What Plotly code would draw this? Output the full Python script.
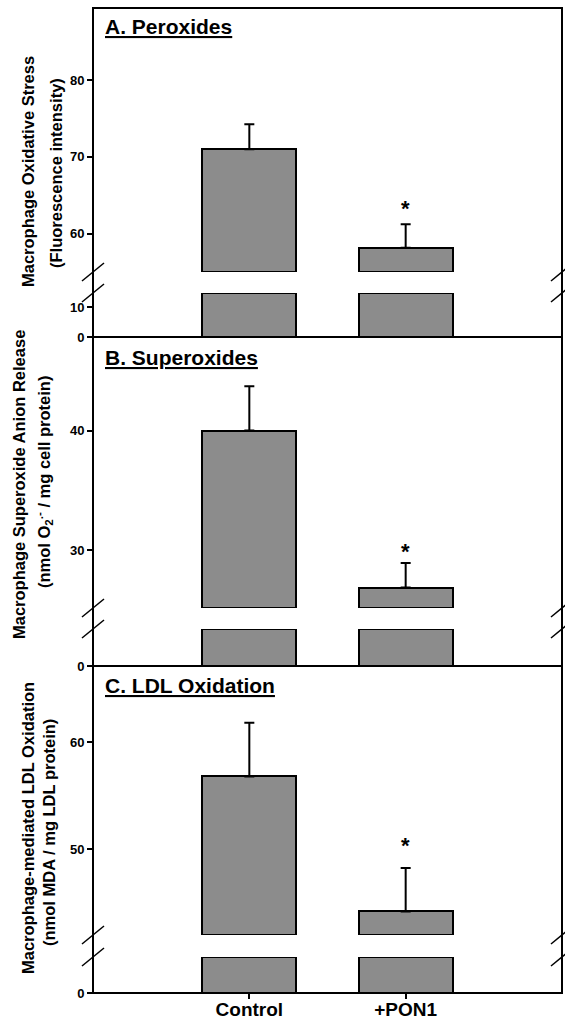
import plotly.graph_objects as go

# ---------------- data ----------------
categories = ["Control", "+PON1"]

peroxide_mean = [71.0, 58.2]
peroxide_sem = [3.25, 3.05]

superoxide_mean = [40.0, 26.9]
superoxide_sem = [3.7, 2.05]

ldl_mean = [56.8, 44.2]
ldl_sem = [5.0, 4.05]

star_y = [63.9, 30.3, 50.8]   # position of the significance asterisk (+PON1)

panel_titles = ["A. Peroxides", "B. Superoxides", "C. LDL Oxidation"]
ylabel_line1 = ["Macrophage Oxidative Stress",
                "Macrophage Superoxide Anion Release",
                "Macrophage-mediated LDL Oxidation"]
ylabel_line2 = ["(Fluorescence intensity)",
                "(nmol O<sub>2</sub><sup>.-</sup> / mg cell protein)",
                "(nmol MDA / mg LDL protein)"]

upper_ticks = [[60, 70, 80], [30, 40], [50, 60]]
lower_ticks = [[0, 10], [0, 5], [0, 10]]

# ---------------- layout geometry ----------------
W, H = 565, 1022
ML, MR, MT, MB = 93, 3, 8, 29
PW, PH = W - ML - MR, H - MT - MB


def fx(px):
    return (px - ML) / PW


def fy(py):
    return (H - MB - py) / PH


FONT = "Liberation Sans, Arial, sans-serif"

panels = [
    dict(mean=peroxide_mean, sem=peroxide_sem,
         upper_px=(8, 272), lower_px=(293, 337),
         upper_range=[55.05, 89.35], lower_range=[0, 14.7],
         lab_px=[(28, 172), (56, 173)], title_py=27),
    dict(mean=superoxide_mean, sem=superoxide_sem,
         upper_px=(337, 608), lower_px=(629, 666),
         upper_range=[25.2, 47.8], lower_range=[0, 4.9],
         lab_px=[(19, 485), (44, 482)], title_py=357),
    dict(mean=ldl_mean, sem=ldl_sem,
         upper_px=(666, 935), lower_px=(957, 993),
         upper_range=[42.0, 67.1], lower_range=[0, 9.5],
         lab_px=[(28, 828), (49, 833)], title_py=686),
]

fig = go.Figure()
shapes = []
annotations = []
layout_axes = {}

BAR_FILL = "#8c8c8c"

for i, p in enumerate(panels):
    up_id = 2 * i + 1
    lo_id = 2 * i + 2
    up_ref = "y" if up_id == 1 else f"y{up_id}"
    lo_ref = f"y{lo_id}"
    up_key = "yaxis" if up_id == 1 else f"yaxis{up_id}"
    lo_key = f"yaxis{lo_id}"

    ub = p["upper_range"][0]
    lt = p["lower_range"][1]

    # upper segment of the broken bars
    fig.add_trace(go.Bar(
        x=categories, y=[v - ub for v in p["mean"]], base=[ub] * len(p["mean"]),
        width=0.6, xaxis="x", yaxis=up_ref,
        marker=dict(color=BAR_FILL, line=dict(color="black", width=2)),
        error_y=dict(type="data", array=p["sem"], arrayminus=[0] * len(p["sem"]),
                     symmetric=False, color="black", thickness=2, width=5),
        showlegend=False, hoverinfo="skip"))
    # lower segment of the broken bars
    fig.add_trace(go.Bar(
        x=categories, y=[min(v, lt) for v in p["mean"]],
        width=0.6, xaxis="x", yaxis=lo_ref,
        marker=dict(color=BAR_FILL, line=dict(color="black", width=2)),
        showlegend=False, hoverinfo="skip"))

    ud = [fy(p["upper_px"][1]), fy(p["upper_px"][0])]
    ld = [max(0, fy(p["lower_px"][1])), fy(p["lower_px"][0])]
    common = dict(anchor="x", showgrid=False, zeroline=False, showline=False,
                  ticks="outside", ticklen=5, tickwidth=1.5, tickcolor="black",
                  tickfont=dict(family=FONT, size=13, color="black", weight="bold"),
                  fixedrange=True)
    layout_axes[up_key] = dict(domain=ud, range=p["upper_range"],
                               tickvals=upper_ticks[i], **common)
    layout_axes[lo_key] = dict(domain=ld, range=p["lower_range"],
                               tickvals=lower_ticks[i], **common)

    # panel frame
    shapes.append(dict(type="rect", xref="paper", yref="paper",
                       x0=0, x1=1, y0=ld[0], y1=ud[1],
                       line=dict(color="black", width=2), layer="above"))
    # break marks on left and right axes
    for yc in (ud[0], ld[1]):
        for xc in (0, 1):
            shapes.append(dict(type="line", xref="paper", yref="paper",
                               x0=xc - 11 / PW, x1=xc + 11 / PW,
                               y0=yc - 9 / PH, y1=yc + 9 / PH,
                               line=dict(color="black", width=1.5)))

    # y-axis title (two lines)
    for txt, (px, py) in zip([ylabel_line1[i], ylabel_line2[i]], p["lab_px"]):
        annotations.append(dict(text=f"<b>{txt}</b>", xref="paper", yref="paper",
                                x=fx(px), y=fy(py), textangle=-90, showarrow=False,
                                xanchor="center", yanchor="middle",
                                font=dict(family=FONT, size=16.5, color="black")))
    # panel title
    annotations.append(dict(text=f"<b><u>{panel_titles[i]}</u></b>",
                            xref="paper", yref="paper", x=fx(103), y=fy(p["title_py"]),
                            xanchor="left", yanchor="middle", showarrow=False,
                            font=dict(family=FONT, size=21, color="black")))
    # significance asterisk
    annotations.append(dict(text="<b>*</b>", xref="x", yref=up_ref,
                            x=categories[1], y=star_y[i], showarrow=False,
                            yanchor="middle", yshift=-5,
                            font=dict(family=FONT, size=22, color="black")))

fig.update_layout(
    width=W, height=H,
    margin=dict(l=ML, r=MR, t=MT, b=MB, autoexpand=False),
    paper_bgcolor="white", plot_bgcolor="white",
    barmode="overlay", bargap=0,
    xaxis=dict(domain=[0, 1], range=[-1, 2], anchor="y6", showgrid=False,
               zeroline=False, showline=False, ticks="outside", ticklen=5,
               tickwidth=1.5, tickcolor="black", ticklabelstandoff=-6,
               tickfont=dict(family=FONT, size=19, color="black", weight="bold"),
               fixedrange=True),
    shapes=shapes, annotations=annotations,
    **layout_axes,
)

fig.write_html("out.html", config={"displayModeBar": False},
               post_script="document.body.style.margin='0';document.body.style.overflow='hidden';")
